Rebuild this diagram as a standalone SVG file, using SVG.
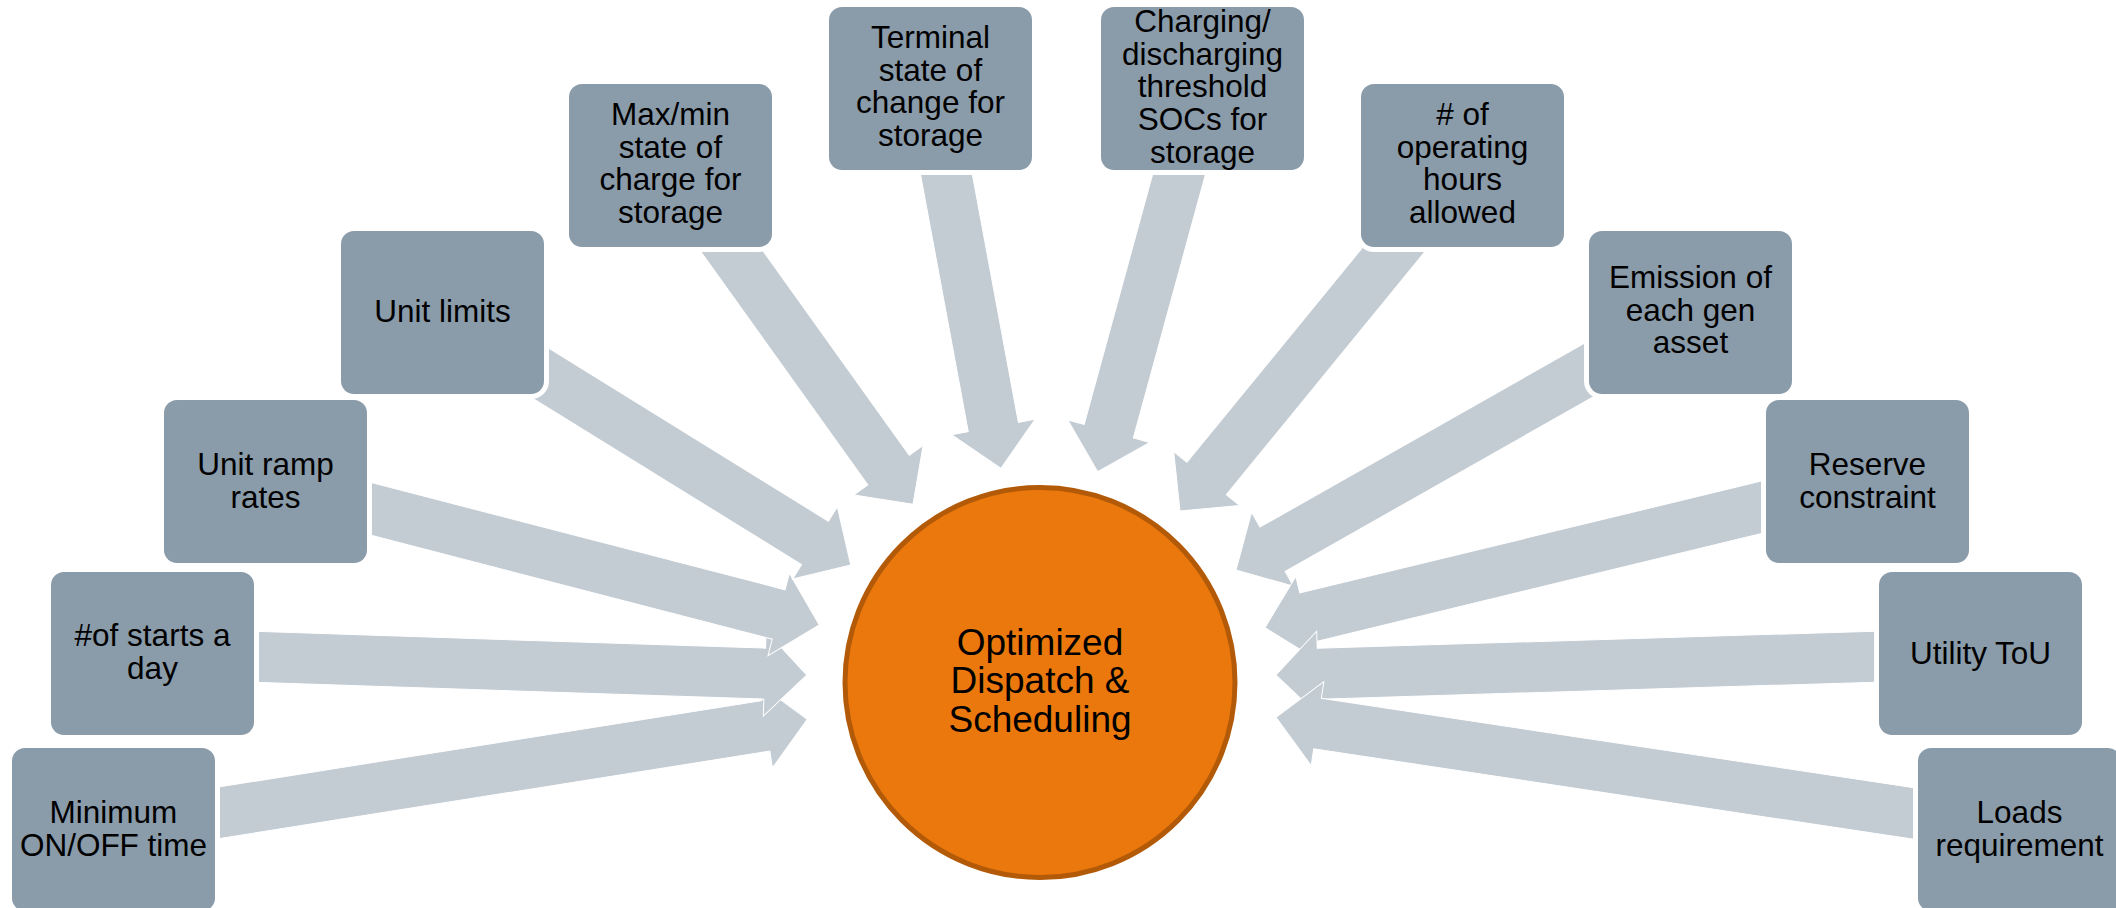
<svg xmlns="http://www.w3.org/2000/svg" width="2116" height="908" viewBox="0 0 2116 908">
<style>
.arrow{fill:#C3CBD3;stroke:#FFFFFF;stroke-width:1;stroke-linejoin:miter}
.box{fill:#8A9BA9;stroke:#FFFFFF;stroke-width:10;paint-order:stroke}
.lbl{font-family:"Liberation Sans",Arial,sans-serif;font-size:31.5px;fill:#000000;text-anchor:middle}
.hub{fill:#EB780C;stroke:#B25A08;stroke-width:5}
.hubtxt{font-family:"Liberation Sans",Arial,sans-serif;font-size:37px;fill:#000000;text-anchor:middle}
</style>
<rect x="0" y="0" width="2116" height="908" fill="#FFFFFF"/>
<g id="connectors">
<path class="arrow" transform="translate(807.3,719.3) rotate(170.97)" d="M0,0 L42,-42.5 L42,-25.5 L702,-25.5 L702,25.5 L42,25.5 L42,42.5 Z"/>
<path class="arrow" transform="translate(806.7,675) rotate(-178.12)" d="M0,0 L42,-42.5 L42,-25.5 L654,-25.5 L654,25.5 L42,25.5 L42,42.5 Z"/>
<path class="arrow" transform="translate(819.3,625) rotate(-165.47)" d="M0,0 L42,-42.5 L42,-25.5 L572,-25.5 L572,25.5 L42,25.5 L42,42.5 Z"/>
<path class="arrow" transform="translate(850.7,565) rotate(-148.26)" d="M0,0 L42,-42.5 L42,-25.5 L480,-25.5 L480,25.5 L42,25.5 L42,42.5 Z"/>
<path class="arrow" transform="translate(913,504.3) rotate(-125.59)" d="M0,0 L42,-42.5 L42,-25.5 L416,-25.5 L416,25.5 L42,25.5 L42,42.5 Z"/>
<path class="arrow" transform="translate(1001,468.3) rotate(-100.52)" d="M0,0 L42,-42.5 L42,-25.5 L386,-25.5 L386,25.5 L42,25.5 L42,42.5 Z"/>
<path class="arrow" transform="translate(1097.7,471.7) rotate(-74.70)" d="M0,0 L42,-42.5 L42,-25.5 L397,-25.5 L397,25.5 L42,25.5 L42,42.5 Z"/>
<path class="arrow" transform="translate(1180,511) rotate(-50.73)" d="M0,0 L42,-42.5 L42,-25.5 L446,-25.5 L446,25.5 L42,25.5 L42,42.5 Z"/>
<path class="arrow" transform="translate(1236,570) rotate(-29.54)" d="M0,0 L42,-42.5 L42,-25.5 L522,-25.5 L522,25.5 L42,25.5 L42,42.5 Z"/>
<path class="arrow" transform="translate(1265,627.7) rotate(-13.64)" d="M0,0 L42,-42.5 L42,-25.5 L620,-25.5 L620,25.5 L42,25.5 L42,42.5 Z"/>
<path class="arrow" transform="translate(1276,675) rotate(-1.75)" d="M0,0 L42,-42.5 L42,-25.5 L704,-25.5 L704,25.5 L42,25.5 L42,42.5 Z"/>
<path class="arrow" transform="translate(1276,717.3) rotate(8.58)" d="M0,0 L42,-42.5 L42,-25.5 L751,-25.5 L751,25.5 L42,25.5 L42,42.5 Z"/>
</g>
<g id="hub">
<circle class="hub" cx="1040" cy="682.5" r="195"/>
<text class="hubtxt" x="1040" y="655">Optimized<tspan x="1040" dy="38.3">Dispatch &amp;</tspan><tspan x="1040" dy="38.3">Scheduling</tspan></text>
</g>
<g id="n-min">
<rect class="box" x="12" y="748" width="203" height="163" rx="13"/>
<text class="lbl" x="113.5" y="823">Minimum<tspan x="113.5" dy="32.7">ON/OFF time</tspan></text>
</g>
<g id="n-starts">
<rect class="box" x="51" y="572" width="203" height="163" rx="13"/>
<text class="lbl" x="152.5" y="646">#of starts a<tspan x="152.5" dy="32.7">day</tspan></text>
</g>
<g id="n-ramp">
<rect class="box" x="164" y="400" width="203" height="163" rx="13"/>
<text class="lbl" x="265.5" y="475">Unit ramp<tspan x="265.5" dy="32.7">rates</tspan></text>
</g>
<g id="n-limits">
<rect class="box" x="341" y="231" width="203" height="163" rx="13"/>
<text class="lbl" x="442.5" y="322">Unit limits</text>
</g>
<g id="n-maxmin">
<rect class="box" x="569" y="84" width="203" height="163" rx="13"/>
<text class="lbl" x="670.5" y="125">Max/min<tspan x="670.5" dy="32.7">state of</tspan><tspan x="670.5" dy="32.7">charge for</tspan><tspan x="670.5" dy="32.7">storage</tspan></text>
</g>
<g id="n-terminal">
<rect class="box" x="829" y="7" width="203" height="163" rx="13"/>
<text class="lbl" x="930.5" y="48">Terminal<tspan x="930.5" dy="32.7">state of</tspan><tspan x="930.5" dy="32.7">change for</tspan><tspan x="930.5" dy="32.7">storage</tspan></text>
</g>
<g id="n-charging">
<rect class="box" x="1101" y="7" width="203" height="163" rx="13"/>
<text class="lbl" x="1202.5" y="32">Charging/<tspan x="1202.5" dy="32.7">discharging</tspan><tspan x="1202.5" dy="32.7">threshold</tspan><tspan x="1202.5" dy="32.7">SOCs for</tspan><tspan x="1202.5" dy="32.7">storage</tspan></text>
</g>
<g id="n-hours">
<rect class="box" x="1361" y="84" width="203" height="163" rx="13"/>
<text class="lbl" x="1462.5" y="125"># of<tspan x="1462.5" dy="32.7">operating</tspan><tspan x="1462.5" dy="32.7">hours</tspan><tspan x="1462.5" dy="32.7">allowed</tspan></text>
</g>
<g id="n-emission">
<rect class="box" x="1589" y="231" width="203" height="163" rx="13"/>
<text class="lbl" x="1690.5" y="288">Emission of<tspan x="1690.5" dy="32.7">each gen</tspan><tspan x="1690.5" dy="32.7">asset</tspan></text>
</g>
<g id="n-reserve">
<rect class="box" x="1766" y="400" width="203" height="163" rx="13"/>
<text class="lbl" x="1867.5" y="475">Reserve<tspan x="1867.5" dy="32.7">constraint</tspan></text>
</g>
<g id="n-tou">
<rect class="box" x="1879" y="572" width="203" height="163" rx="13"/>
<text class="lbl" x="1980.5" y="664">Utility ToU</text>
</g>
<g id="n-loads">
<rect class="box" x="1918" y="748" width="203" height="163" rx="13"/>
<text class="lbl" x="2019.5" y="823">Loads<tspan x="2019.5" dy="32.7">requirement</tspan></text>
</g>
</svg>
